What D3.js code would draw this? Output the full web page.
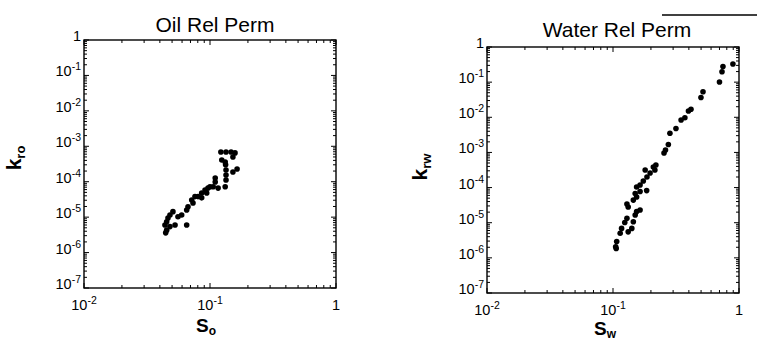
<!DOCTYPE html>
<html>
<head>
<meta charset="utf-8">
<script src="https://cdn.jsdelivr.net/npm/d3@7/dist/d3.min.js"></script>
<style>
  html, body { margin: 0; padding: 0; background: #fff; }
  svg { display: block; }
  text { font-family: "Liberation Sans", Arial, Helvetica, sans-serif; fill: #000; }
</style>
</head>
<body>
<svg id="chart" width="757" height="342"></svg>
<script>
// ---- Data ----
const oilSat = [0.122, 0.134, 0.147, 0.158, 0.152, 0.124, 0.132, 0.133, 0.134, 0.134, 0.134,
  0.164, 0.152, 0.132, 0.110, 0.110, 0.106, 0.0964, 0.0942, 0.0913, 0.0859, 0.0803, 0.0760,
  0.0859, 0.0716, 0.0733, 0.0669, 0.0653, 0.0596, 0.0557, 0.0508, 0.0481, 0.0464, 0.0453,
  0.0439, 0.0453, 0.0528, 0.0481, 0.0653, 0.0445, 0.116, 0.100];
const oilKr = [6.9e-4, 6.9e-4, 6.9e-4, 6.5e-4, 5.0e-4, 4.1e-4, 3.6e-4, 3.0e-4, 2.14e-4, 1.55e-4, 1.12e-4,
  2.29e-4, 1.88e-4, 7.2e-5, 1.27e-4, 9.8e-5, 7.2e-5, 6.6e-5, 4.8e-5, 5.8e-5, 4.8e-5, 3.8e-5, 3.8e-5,
  3.5e-5, 3.05e-5, 2.5e-5, 1.97e-5, 1.59e-5, 1.15e-5, 1.03e-5, 1.43e-5, 1.15e-5, 9.5e-6, 7.4e-6,
  6.0e-6, 4.3e-6, 6.0e-6, 5.4e-6, 6.0e-6, 3.6e-6, 6.6e-5, 7.2e-5];

const waterSat = [0.895, 0.746, 0.733, 0.700, 0.518, 0.499, 0.416, 0.397, 0.372, 0.347, 0.316,
  0.283, 0.275, 0.261, 0.254, 0.219, 0.209, 0.215, 0.197, 0.180, 0.186, 0.174, 0.164, 0.154,
  0.185, 0.164, 0.150, 0.154, 0.145, 0.129, 0.132, 0.154, 0.164, 0.150, 0.129, 0.124, 0.141,
  0.132, 0.117, 0.114, 0.107, 0.105, 0.106, 0.145];
const waterKr = [0.328, 0.279, 0.198, 0.101, 0.0535, 0.0366, 0.0169, 0.0151, 0.00973, 0.00837, 0.0048,
  0.0035, 0.00168, 0.00117, 0.00096, 4.4e-4, 3.85e-4, 3.16e-4, 2.6e-4, 3.16e-4, 2.0e-4, 1.54e-4, 1.18e-4, 1.04e-4,
  8.2e-5, 7.7e-5, 6.8e-5, 5.4e-5, 4.4e-5, 3.4e-5, 2.8e-5, 2.08e-5, 2.3e-5, 1.66e-5, 1.33e-5, 1.01e-5, 6.9e-6,
  5.5e-6, 6.9e-6, 5.0e-6, 2.9e-6, 2.07e-6, 1.85e-6, 1.07e-5];

const xTickValues = [0.01, 0.1, 1];
const yTickValues = [1e-7, 1e-6, 1e-5, 1e-4, 1e-3, 1e-2, 1e-1, 1];
const titles = ["Oil Rel Perm", "Water Rel Perm"];
const xSubs = ["o", "w"];
const ySubs = ["ro", "rw"];

// ---- Layout ----
const panels = [
  { title: titles[0], sat: oilSat, kr: oilKr, xs: xSubs[0], ys: ySubs[0],
    left: 84, right: 336, top: 40, bottom: 288,
    titleX: 215, titleY: 32, xLabelX: 206, xLabelY: 332, yLabelX: 21, yLabelY: 158 },
  { title: titles[1], sat: waterSat, kr: waterKr, xs: xSubs[1], ys: ySubs[1],
    left: 487, right: 739, top: 47, bottom: 293,
    titleX: 617, titleY: 37, xLabelX: 605, xLabelY: 335, yLabelX: 427, yLabelY: 167 }
];

const svg = d3.select("#chart");

function expOf(v) { return Math.round(Math.log10(v)); }

function labelText(sel, v) {
  const e = expOf(v);
  if (e === 0) { sel.text("1"); return; }
  sel.append("tspan").text("10");
  sel.append("tspan").attr("dy", -6).attr("font-size", 10.5).text(String(e));
}

function minorTicks(lo, hi) {
  const out = [];
  for (let e = Math.round(Math.log10(lo)); e < Math.round(Math.log10(hi)); e++) {
    for (let k = 2; k <= 9; k++) out.push(k * Math.pow(10, e));
  }
  return out;
}

panels.forEach(p => {
  const x = d3.scaleLog().domain([0.01, 1]).range([p.left, p.right]);
  const y = d3.scaleLog().domain([1e-7, 1]).range([p.bottom, p.top]);
  const g = svg.append("g");

  // ticks (inward) on all sides
  const yMinor = minorTicks(1e-7, 1);
  const xMinor = minorTicks(0.01, 1);
  const tickG = g.append("g").attr("stroke", "#000").attr("stroke-width", 1);
  yMinor.forEach(v => {
    tickG.append("line").attr("x1", p.left).attr("x2", p.left + 3).attr("y1", y(v)).attr("y2", y(v));
    tickG.append("line").attr("x1", p.right).attr("x2", p.right - 3).attr("y1", y(v)).attr("y2", y(v));
  });
  yTickValues.forEach(v => {
    tickG.append("line").attr("x1", p.left).attr("x2", p.left + 5).attr("y1", y(v)).attr("y2", y(v));
    tickG.append("line").attr("x1", p.right).attr("x2", p.right - 5).attr("y1", y(v)).attr("y2", y(v));
  });
  xMinor.forEach(v => {
    tickG.append("line").attr("x1", x(v)).attr("x2", x(v)).attr("y1", p.bottom).attr("y2", p.bottom - 3);
    tickG.append("line").attr("x1", x(v)).attr("x2", x(v)).attr("y1", p.top).attr("y2", p.top + 3);
  });
  xTickValues.forEach(v => {
    tickG.append("line").attr("x1", x(v)).attr("x2", x(v)).attr("y1", p.bottom).attr("y2", p.bottom - 5);
    tickG.append("line").attr("x1", x(v)).attr("x2", x(v)).attr("y1", p.top).attr("y2", p.top + 5);
  });

  // frame
  g.append("rect")
    .attr("x", p.left).attr("y", p.top)
    .attr("width", p.right - p.left).attr("height", p.bottom - p.top)
    .attr("fill", "none").attr("stroke", "#000").attr("stroke-width", 1.4);

  // y tick labels
  yTickValues.forEach(v => {
    const t = g.append("text")
      .attr("x", p.left - 3).attr("y", y(v) + 1)
      .attr("text-anchor", "end").attr("font-size", 14.5);
    labelText(t, v);
  });
  // x tick labels
  xTickValues.forEach(v => {
    const t = g.append("text")
      .attr("x", x(v)).attr("y", p.bottom + 22)
      .attr("text-anchor", "middle").attr("font-size", 14.5);
    labelText(t, v);
  });

  // points
  g.append("g").selectAll("circle")
    .data(p.sat.map((s, i) => [s, p.kr[i]]))
    .join("circle")
    .attr("cx", d => x(d[0]))
    .attr("cy", d => y(d[1]))
    .attr("r", 2.8)
    .attr("fill", "#000");

  // title
  g.append("text")
    .attr("x", p.titleX).attr("y", p.titleY)
    .attr("text-anchor", "middle").attr("font-size", 21)
    .text(p.title);

  // x axis label
  const xl = g.append("text")
    .attr("x", p.xLabelX).attr("y", p.xLabelY)
    .attr("text-anchor", "middle").attr("font-size", 19).attr("font-weight", "bold");
  xl.append("tspan").text("S");
  xl.append("tspan").attr("dy", 3).attr("font-size", 12).attr("font-weight", "bold").text(p.xs);

  // y axis label
  const yl = g.append("text")
    .attr("transform", `translate(${p.yLabelX},${p.yLabelY}) rotate(-90)`)
    .attr("text-anchor", "middle").attr("font-size", 21).attr("font-weight", "bold");
  yl.append("tspan").text("k");
  yl.append("tspan").attr("dy", 4).attr("font-size", 13).attr("font-weight", "bold").text(p.ys);
});

// stray rule at the top right of the scanned figure
svg.append("line")
  .attr("x1", 662).attr("x2", 757).attr("y1", 15).attr("y2", 15)
  .attr("stroke", "#000").attr("stroke-width", 1.5);
</script>
</body>
</html>
